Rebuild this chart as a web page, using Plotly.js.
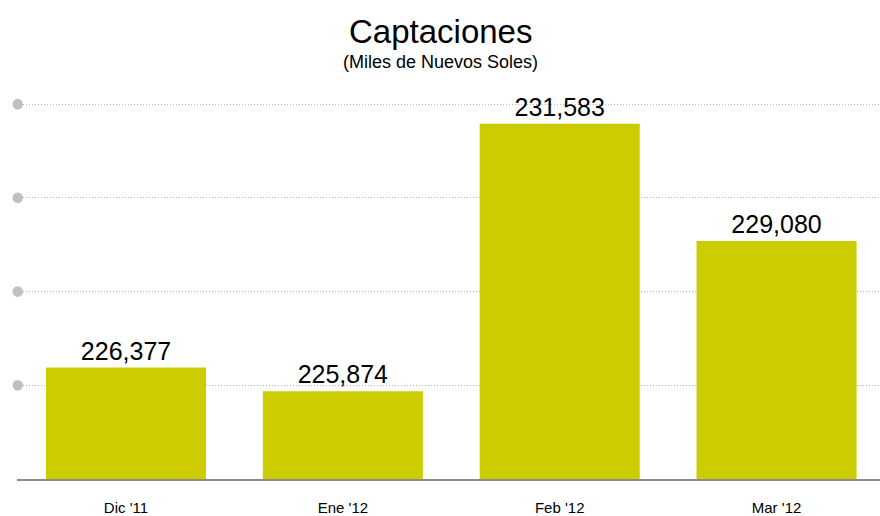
<!DOCTYPE html>
<html>
<head>
<meta charset="utf-8">
<script src="https://cdn.plot.ly/plotly-3.0.1.min.js"></script>
<style>html,body{margin:0;padding:0;background:#fff;}#chart{width:880px;height:516px;}</style>
</head>
<body>
<div id="chart"></div>
<script>
var categories = ["Dic '11", "Ene '12", "Feb '12", "Mar '12"];
var values = [226377, 225874, 231583, 229080];
var valueLabels = ["226,377", "225,874", "231,583", "229,080"];
var gridValues = [226000, 228000, 230000, 232000];

var barColor = "#cccc00";
var dotShapes = gridValues.map(function (v) {
  return {
    type: "circle", xref: "paper", yref: "y",
    xsizemode: "pixel", xanchor: 0, x0: -4.5, x1: 6,
    ysizemode: "pixel", yanchor: v, y0: -5.3, y1: 5.3,
    fillcolor: "#c0c0c0", line: {width: 0}, layer: "above"
  };
});

var trace = {
  type: "bar",
  x: categories,
  y: values,
  text: valueLabels,
  textposition: "outside",
  textfont: {family: "Liberation Sans, Arial, sans-serif", size: 25, color: "#000"},
  cliponaxis: true,
  marker: {color: barColor, line: {width: 0}},
  hoverinfo: "none"
};

var layout = {
  width: 880, height: 516,
  margin: {l: 17, r: 0, t: 90, b: 37},
  paper_bgcolor: "#fff", plot_bgcolor: "#fff",
  showlegend: false,
  bargap: 0.262,
  font: {family: "Liberation Sans, Arial, sans-serif", color: "#000"},
  xaxis: {
    type: "category",
    range: [-0.5027, 3.477],
    showgrid: false, zeroline: false,
    showline: true, linecolor: "#8a8a8a", linewidth: 2,
    ticks: "outside", ticklen: 14, tickcolor: "rgba(0,0,0,0)",
    tickfont: {size: 15, color: "#000"},
    fixedrange: true
  },
  yaxis: {
    range: [224000, 232302],
    tickmode: "array", tickvals: gridValues,
    showticklabels: false,
    showgrid: true, gridcolor: "#b8b8b8", griddash: "1px,2px", gridwidth: 1,
    zeroline: false, showline: false,
    fixedrange: true
  },
  shapes: dotShapes,
  annotations: [
    {text: "Captaciones", xref: "paper", yref: "paper", x: 0.4913, y: 1, yshift: 59,
     xanchor: "center", yanchor: "middle", showarrow: false,
     font: {size: 33, color: "#000"}},
    {text: "(Miles de Nuevos Soles)", xref: "paper", yref: "paper", x: 0.4913, y: 1, yshift: 28,
     xanchor: "center", yanchor: "middle", showarrow: false,
     font: {size: 18, color: "#000"}}
  ]
};

Plotly.newPlot("chart", [trace], layout, {displayModeBar: false, staticPlot: true});
</script>
</body>
</html>
